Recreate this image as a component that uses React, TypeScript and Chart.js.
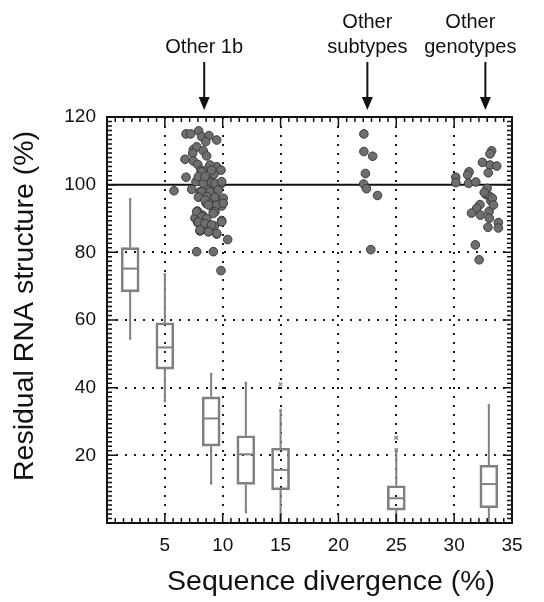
import React, { useEffect, useRef } from 'react';
import { Chart, registerables } from 'chart.js';

Chart.register(...registerables);

// ---- axes ----
const xMin = 0;
const xMax = 35;
const xStep = 5;
const yMin = 0;
const yMax = 120;
const yStep = 20;
const xMinorPerMajor = 7;
const yMinorPerMajor = 15;
const xGridValues = [5, 10, 15, 20, 25, 30];
const yGridValues = [20, 40, 60, 80];
const referenceY = 100;

// ---- box plots ----
const boxX = [2, 5, 9, 12, 15, 25, 33];
const whiskerLow = [54.5, 36, 11.7, 3.2, 0, 0, 0];
const boxQ1 = [68.3, 45.5, 22.7, 11.4, 9.8, 3.8, 4.5];
const boxMedian = [75.2, 51.9, 30.9, 20.3, 15.7, 7.3, 11.5];
const boxQ3 = [81.4, 59.2, 37.3, 25.8, 22.1, 11.0, 17.1];
const whiskerHigh = [95.7, 73.5, 44.0, 41.4, 33.4, 21.6, 34.8];
const outlierX = [15, 25, 25];
const outlierY = [41.0, 25.2, 21.6];

// ---- scatter groups ----
const other1bX = [
  6.83, 7.23, 7.92, 8.18, 8.81, 9.48, 8.53, 7.46, 7.75, 7.40, 8.32, 8.61, 6.74, 7.46, 7.84, 8.12,
  8.81, 9.48, 9.85, 9.25, 8.04, 6.83, 8.61, 7.69, 8.32, 9.04, 9.82, 5.79, 7.32, 8.04, 8.76, 9.48,
  7.98, 9.04, 9.77, 8.56, 9.33, 9.91, 7.81, 9.19, 8.26, 7.60, 9.91, 7.84, 8.61, 9.28, 8.04, 8.76,
  9.48, 10.43, 7.75, 9.19, 9.85,
  8.90, 8.18, 9.04, 7.90, 8.47, 9.33, 9.91, 8.18, 8.90, 9.62, 8.61, 7.90, 9.33, 8.47, 10.05, 8.76,
  9.48, 10.05, 7.75, 9.33, 8.18, 8.61, 9.19, 7.90, 8.47, 9.04, 9.91, 8.04, 8.76, 9.48,
];
const other1bY = [
  115.0, 115.0, 115.9, 114.2, 114.5, 113.2, 112.7, 110.4, 111.2, 109.3, 110.0, 108.5, 107.5, 107.0, 106.0, 104.3,
  105.0, 105.3, 104.3, 103.1, 102.4, 102.2, 101.6, 100.9, 100.4, 100.6, 100.1, 98.2, 98.6, 97.9, 98.6, 98.4,
  96.5, 96.2, 95.5, 94.5, 94.2, 93.7, 92.2, 92.0, 91.0, 90.1, 89.4, 88.8, 88.1, 87.8, 86.3, 86.1,
  85.4, 83.8, 80.2, 80.2, 74.6,
  105.8, 103.8, 104.3, 102.4, 102.4, 100.4, 100.9, 97.9, 97.9, 98.4, 96.5, 96.3, 96.3, 95.5, 96.0, 94.0,
  94.0, 94.5, 92.0, 92.0, 90.5, 90.0, 91.5, 89.0, 88.5, 88.1, 89.0, 86.6, 86.1, 85.6,
];
const subtypesX = [22.2, 22.2, 22.96, 22.33, 22.18, 22.42, 23.38, 22.8];
const subtypesY = [115.0, 109.8, 108.4, 103.3, 100.2, 98.8, 96.8, 80.8];
const genotypesX = [
  33.24, 33.1, 32.45, 33.1, 33.68, 32.95, 31.29, 31.17, 30.14, 30.15, 31.25, 31.87, 32.85, 32.75,
  33.04, 33.16, 32.23, 31.95, 33.02, 31.5, 32.28, 33.04, 33.82, 32.92, 33.82, 31.83, 32.16,
  33.3, 32.6, 33.4,
];
const genotypesY = [
  110.0, 109.1, 106.6, 105.8, 105.5, 103.5, 103.8, 102.9, 102.2, 100.6, 100.4, 100.8, 98.9, 97.1,
  96.6, 95.3, 94.1, 93.0, 92.1, 91.6, 91.0, 90.1, 88.8, 87.4, 87.2, 82.2, 77.8,
  96.0, 97.7, 94.0,
];

// ---- labels ----
const xTitle = 'Sequence divergence (%)';
const yTitle = 'Residual RNA structure (%)';
const annotationLines = [['Other 1b'], ['Other', 'subtypes'], ['Other', 'genotypes']];
const annotationX = [8.4, 22.5, 32.7];
const annotationTextX = [8.4, 22.5, 31.4];

const FONT = "'Liberation Sans', Arial, Helvetica, sans-serif";
const BOX_COLOR = '#808080';
const INK = '#111111';

const pts = (xs: number[], ys: number[]) => xs.map((x, i) => ({ x, y: ys[i] }));

const decorPlugin = {
  id: 'decor',
  beforeDraw(chart: any) {
    const { ctx, width, height } = chart;
    ctx.save();
    ctx.fillStyle = '#ffffff';
    ctx.fillRect(0, 0, width, height);
    ctx.restore();
  },
  afterDraw(chart: any) {
    const { ctx, chartArea: a, scales } = chart;
    const xs = scales.x;
    const ys = scales.y;
    ctx.save();
    ctx.strokeStyle = INK;
    ctx.lineWidth = 1.5;
    ctx.beginPath();
    const nx = ((xMax - xMin) / xStep) * xMinorPerMajor;
    for (let i = 0; i <= nx; i++) {
      const v = xMin + (i * xStep) / xMinorPerMajor;
      const px = xs.getPixelForValue(v);
      const len = i % xMinorPerMajor === 0 ? 9 : 5;
      ctx.moveTo(px, a.bottom);
      ctx.lineTo(px, a.bottom - len);
      ctx.moveTo(px, a.top);
      ctx.lineTo(px, a.top + len);
    }
    const ny = ((yMax - yMin) / yStep) * yMinorPerMajor;
    for (let i = 0; i <= ny; i++) {
      const v = yMin + (i * yStep) / yMinorPerMajor;
      const py = ys.getPixelForValue(v);
      const len = i % yMinorPerMajor === 0 ? 9 : 5;
      ctx.moveTo(a.left, py);
      ctx.lineTo(a.left + len, py);
      ctx.moveTo(a.right, py);
      ctx.lineTo(a.right - len, py);
    }
    ctx.stroke();
    ctx.lineWidth = 2;
    ctx.strokeRect(a.left, a.top, a.right - a.left, a.bottom - a.top);

    // axis titles
    ctx.fillStyle = INK;
    ctx.font = `28.5px ${FONT}`;
    ctx.textAlign = 'center';
    ctx.textBaseline = 'middle';
    ctx.fillText(xTitle, 331, 582);
    ctx.save();
    ctx.translate(25, 306);
    ctx.rotate(-Math.PI / 2);
    ctx.fillText(yTitle, 0, 0);
    ctx.restore();

    // annotations with arrows
    ctx.font = `20px ${FONT}`;
    annotationLines.forEach((lines, k) => {
      const px = xs.getPixelForValue(annotationX[k]);
      const tx = xs.getPixelForValue(annotationTextX[k]);
      lines.forEach((t, j) => {
        const yy = 47 - (lines.length - 1 - j) * 25;
        ctx.fillText(t, tx, yy);
      });
      ctx.lineWidth = 2;
      ctx.beginPath();
      ctx.moveTo(px, 62);
      ctx.lineTo(px, 100);
      ctx.stroke();
      ctx.beginPath();
      ctx.moveTo(px - 5.5, 97);
      ctx.lineTo(px + 5.5, 97);
      ctx.lineTo(px, 110);
      ctx.closePath();
      ctx.fill();
    });
    ctx.restore();
  },
};

export default function App() {
  const ref = useRef<HTMLCanvasElement | null>(null);
  useEffect(() => {
    if (!ref.current) return;
    const whiskerData: any[] = [];
    boxX.forEach((x, i) => {
      whiskerData.push({ x, y: whiskerLow[i] }, { x, y: boxQ1[i] }, { x, y: null });
      whiskerData.push({ x, y: boxQ3[i] }, { x, y: whiskerHigh[i] }, { x, y: null });
    });
    const capData: any[] = [];
    boxX.forEach((x, i) => {
      if (whiskerLow[i] > 0) capData.push({ x, y: whiskerLow[i] });
      capData.push({ x, y: whiskerHigh[i] });
    });
    const pointStyle = {
      type: 'scatter' as const,
      pointRadius: 4.3,
      pointBackgroundColor: '#6e6e6e',
      pointBorderColor: '#3c3c3c',
      pointBorderWidth: 1,
      order: 0,
    };
    const chart = new Chart(ref.current, {
      type: 'scatter',
      data: {
        datasets: [
          { ...pointStyle, label: 'Other 1b', data: pts(other1bX, other1bY) },
          { ...pointStyle, label: 'Other subtypes', data: pts(subtypesX, subtypesY) },
          { ...pointStyle, label: 'Other genotypes', data: pts(genotypesX, genotypesY) },
          {
            type: 'line',
            label: 'reference',
            data: [{ x: xMin, y: referenceY }, { x: xMax, y: referenceY }],
            borderColor: INK,
            borderWidth: 2,
            pointRadius: 0,
            order: 5,
          } as any,
          {
            type: 'bar',
            label: 'IQR',
            data: boxX.map((x, i) => ({ x, y: [boxQ1[i], boxQ3[i]] })),
            backgroundColor: 'rgba(255,255,255,0)',
            borderColor: BOX_COLOR,
            borderWidth: 2,
            borderSkipped: false,
            barThickness: 18,
            order: 3,
          } as any,
          {
            type: 'line',
            label: 'whiskers',
            data: whiskerData,
            borderColor: BOX_COLOR,
            borderWidth: 2,
            pointRadius: 0,
            spanGaps: false,
            order: 3,
          } as any,
          {
            type: 'scatter',
            label: 'medians',
            data: pts(boxX, boxMedian),
            pointStyle: 'line',
            pointRadius: 8.5,
            pointBorderColor: BOX_COLOR,
            pointBorderWidth: 2,
            order: 2,
          } as any,
          {
            type: 'scatter',
            label: 'caps',
            data: capData,
            pointStyle: 'rect',
            pointRadius: 1.6,
            pointBackgroundColor: BOX_COLOR,
            pointBorderColor: BOX_COLOR,
            pointBorderWidth: 0,
            order: 2,
          } as any,
          {
            type: 'scatter',
            label: 'outliers',
            data: pts(outlierX, outlierY),
            pointStyle: 'crossRot',
            pointRadius: 2.5,
            pointBorderColor: BOX_COLOR,
            pointBorderWidth: 1.2,
            order: 2,
          } as any,
        ],
      },
      options: {
        responsive: false,
        animation: false,
        events: [],
        layout: { padding: { left: 0, right: 32, top: 117, bottom: 0 } },
        plugins: { legend: { display: false }, tooltip: { enabled: false } },
        scales: {
          x: {
            type: 'linear',
            min: xMin,
            max: xMax,
            offset: false,
            afterFit: (s: any) => {
              s.height = 79;
            },
            ticks: {
              stepSize: xStep,
              padding: 11,
              color: INK,
              font: { family: FONT, size: 19 },
              callback: (v: any) => (Number(v) === 0 ? '' : String(v)),
            },
            grid: {
              offset: false,
              drawTicks: false,
              lineWidth: 2,
              color: (c: any) =>
                xGridValues.includes(c.tick?.value) ? '#1a1a1a' : 'rgba(0,0,0,0)',
            },
            border: { display: false, dash: [2, 7] },
          },
          y: {
            type: 'linear',
            min: yMin,
            max: yMax,
            afterFit: (s: any) => {
              s.width = 107;
            },
            ticks: {
              stepSize: yStep,
              padding: 11,
              color: INK,
              font: { family: FONT, size: 19 },
              callback: (v: any) => (Number(v) === 0 ? '' : String(v)),
            },
            grid: {
              drawTicks: false,
              lineWidth: 2,
              color: (c: any) =>
                yGridValues.includes(c.tick?.value) ? '#1a1a1a' : 'rgba(0,0,0,0)',
            },
            border: { display: false, dash: [2, 7] },
          },
        },
      } as any,
      plugins: [decorPlugin],
    });
    return () => chart.destroy();
  }, []);
  return (
    <div style={{ position: 'absolute', left: 0, top: 0, width: 544, height: 602, background: '#fff' }}>
      <canvas ref={ref} width={544} height={602} style={{ display: 'block' }} />
    </div>
  );
}
